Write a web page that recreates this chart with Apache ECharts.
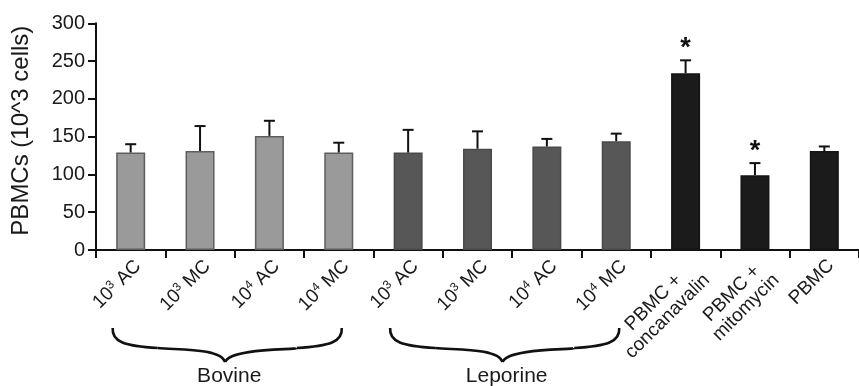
<!DOCTYPE html>
<html>
<head>
<meta charset="utf-8">
<script src="https://cdn.jsdelivr.net/npm/echarts@6/dist/echarts.min.js"></script>
<style>
html,body{margin:0;padding:0;background:#fff;}
#chart{width:859px;height:386px;}
</style>
</head>
<body>
<div id="chart"></div>
<script>
// ---- data ----
var categories = ['10{s|3} AC', '10{s|3} MC', '10{s|4} AC', '10{s|4} MC',
                  '10{s|3} AC', '10{s|3} MC', '10{s|4} AC', '10{s|4} MC',
                  '{c|PBMC +}\n{c|concanavalin}', '{c|PBMC +}\n{c|mitomycin}', 'PBMC'];
var groupOf = ['bovine','bovine','bovine','bovine','leporine','leporine','leporine','leporine','control','control','control'];
var values = [129, 131, 151, 129, 129, 134, 137, 144, 234, 99, 131];
var errors = [11, 33, 20, 13, 30, 23, 10, 10, 17, 16, 6];
var significant = [false, false, false, false, false, false, false, false, true, true, false];
var groupLabels = [{name: 'Bovine', from: 0, to: 3}, {name: 'Leporine', from: 4, to: 7}];
var yTicks = {min: 0, max: 300, interval: 50};

var fills = {bovine: '#9a9a9a', leporine: '#575757', control: '#1b1b1b'};
var borders = {bovine: '#5e5e5e', leporine: '#4a4a4a', control: '#141414'};

var chart = echarts.init(document.getElementById('chart'));
var FONT = 'Liberation Sans, Arial, sans-serif';
var TXT = '#1a1a1a';

var barData = values.map(function (v, i) {
  return {value: v, itemStyle: {color: fills[groupOf[i]], borderColor: borders[groupOf[i]], borderWidth: 1.5}};
});
var errData = values.map(function (v, i) { return [i, v, v + errors[i], significant[i] ? 1 : 0]; });

var option = {
  animation: false,
  grid: {left: 96, top: 23.3, width: 770, bottom: 136, containLabel: false},
  xAxis: {
    type: 'category',
    data: categories,
    axisLine: {lineStyle: {color: '#111', width: 2}},
    axisTick: {show: true, alignWithLabel: false, interval: 0, length: 8, lineStyle: {color: '#111', width: 2}},
    axisLabel: {
      interval: 0, rotate: 45, margin: 6, fontSize: 19, color: TXT, fontFamily: FONT, verticalAlign: 'top',
      rich: {
        s: {fontSize: 12, verticalAlign: 'top', lineHeight: 21, color: TXT, fontFamily: FONT},
        c: {align: 'center', fontSize: 19, color: TXT, fontFamily: FONT, lineHeight: 20}
      }
    },
    splitLine: {show: false}
  },
  yAxis: {
    type: 'value',
    min: yTicks.min, max: yTicks.max, interval: yTicks.interval,
    name: 'PBMCs (10^3 cells)',
    nameLocation: 'middle', nameRotate: 90, nameGap: 63,
    nameTextStyle: {fontSize: 24, color: TXT, fontFamily: FONT, padding: [0, 0, 0, 12]},
    axisLine: {show: true, lineStyle: {color: '#111', width: 2}},
    axisTick: {show: true, length: 8, lineStyle: {color: '#111', width: 2}},
    axisLabel: {fontSize: 20, color: TXT, margin: 11, fontFamily: FONT},
    splitLine: {show: false}
  },
  series: [
    {type: 'bar', data: barData, barWidth: 29, z: 2},
    {
      type: 'custom', z: 3,
      data: errData,
      renderItem: function (params, api) {
        var i = api.value(0);
        var base = api.coord([i, api.value(1)]);
        var top = api.coord([i, api.value(2)]);
        var half = 5.5;
        var children = [
          {type: 'line', shape: {x1: base[0], y1: base[1], x2: top[0], y2: top[1]}, style: {stroke: '#111', lineWidth: 2}},
          {type: 'line', shape: {x1: top[0] - half, y1: top[1], x2: top[0] + half, y2: top[1]}, style: {stroke: '#111', lineWidth: 2}}
        ];
        if (api.value(3)) {
          children.push({type: 'text', style: {text: '*', x: top[0], y: top[1] + 2, align: 'center', verticalAlign: 'bottom',
            font: 'bold 27px ' + FONT, fill: '#111'}});
        }
        return {type: 'group', children: children};
      }
    }
  ]
};
chart.setOption(option);

// group braces under the category labels
var baseY = chart.convertToPixel({yAxisIndex: 0}, 0);
var graphics = [];
function bez(a, b, c, d) {
  return {type: 'bezierCurve', shape: {x1: a[0], y1: a[1], cpx1: b[0], cpy1: b[1], cpx2: c[0], cpy2: c[1], x2: d[0], y2: d[1]},
    style: {stroke: '#111', lineWidth: 2.6, fill: null}};
}
groupLabels.forEach(function (g) {
  var x0 = chart.convertToPixel({xAxisIndex: 0}, g.from) - 18;
  var x1 = chart.convertToPixel({xAxisIndex: 0}, g.to) + 3;
  var tip = (x0 + x1) / 2 - 2;
  var yEnd = baseY + 78;
  var yH = baseY + 98;
  var yTip = baseY + 112;
  graphics.push(bez([x0, yEnd], [x0 - 1, yEnd + 14], [x0 + 12, yH - 2], [x0 + 45, yH]));
  graphics.push(bez([x0 + 45, yH], [tip - 45, yH + 2], [tip - 5, yH], [tip, yTip]));
  graphics.push(bez([tip, yTip], [tip + 5, yH], [x1 - 45, yH + 2], [x1 - 45, yH]));
  graphics.push(bez([x1 - 45, yH], [x1 - 12, yH - 2], [x1 + 1, yEnd + 14], [x1, yEnd]));
  graphics.push({type: 'text', x: tip + 4, y: baseY + 126, style: {text: g.name, align: 'center', verticalAlign: 'middle',
    font: '21px ' + FONT, fill: TXT}});
});
chart.setOption({graphic: graphics});
</script>
</body>
</html>
